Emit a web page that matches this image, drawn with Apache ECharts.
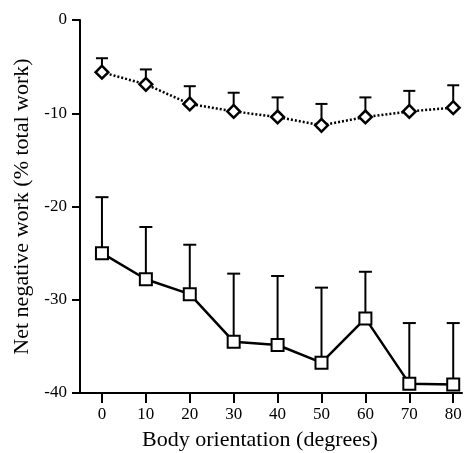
<!DOCTYPE html>
<html>
<head>
<meta charset="utf-8">
<script src="https://cdn.jsdelivr.net/npm/echarts@6/dist/echarts.min.js"></script>
<style>
  html, body { margin: 0; padding: 0; background: #fff; }
  #chart { width: 465px; height: 453px; }
</style>
</head>
<body>
<div id="chart"></div>
<script>
// body orientation (degrees)
var angles = [0, 10, 20, 30, 40, 50, 60, 70, 80];
// diamonds, dotted line
var upperMean = [-5.6, -6.9, -9.0, -9.8, -10.4, -11.3, -10.4, -9.8, -9.4];
var upperErrTop = [-4.1, -5.3, -7.1, -7.8, -8.3, -9.0, -8.3, -7.6, -7.0];
// squares, solid line
var lowerMean = [-25.0, -27.8, -29.4, -34.5, -34.85, -36.75, -32.0, -39.0, -39.1];
var lowerErrTop = [-19.0, -22.2, -24.1, -27.2, -27.45, -28.7, -27.0, -32.5, -32.5];
var yTicks = [0, -10, -20, -30, -40];

var font = "'Liberation Serif', 'DejaVu Serif', serif";

function pairs(ys) {
  return angles.map(function (a, i) { return [a, ys[i]]; });
}
function errData(means, tops) {
  return angles.map(function (a, i) { return [a, means[i], tops[i]]; });
}

function errorBar(capW) {
  return function (params, api) {
    var p = api.coord([api.value(0), api.value(1)]);
    var t = api.coord([api.value(0), api.value(2)]);
    var st = { stroke: '#000', lineWidth: 2 };
    return {
      type: 'group',
      children: [
        { type: 'line', shape: { x1: p[0], y1: p[1], x2: t[0], y2: t[1] }, style: st },
        { type: 'line', shape: { x1: t[0] - capW / 2, y1: t[1], x2: t[0] + capW / 2, y2: t[1] }, style: st }
      ]
    };
  };
}

var chart = echarts.init(document.getElementById('chart'));
chart.setOption({
  animation: false,
  backgroundColor: '#fff',
  grid: { left: 80, right: 3, top: 20, bottom: 60, containLabel: false, outerBoundsMode: 'none' },
  xAxis: {
    type: 'value',
    min: -5,
    max: 82,
    name: 'Body orientation (degrees)',
    nameLocation: 'middle',
    nameGap: 36,
    nameTextStyle: { fontFamily: font, fontSize: 22, color: '#000', padding: [0, 22, 0, 0] },
    axisLine: { onZero: false, lineStyle: { color: '#000', width: 2 } },
    axisTick: { show: true, length: 10, lineStyle: { color: '#000', width: 2 }, customValues: angles },
    axisLabel: { fontFamily: font, fontSize: 17, color: '#000', margin: 13, customValues: angles },
    splitLine: { show: false }
  },
  yAxis: {
    type: 'value',
    min: -40,
    max: 0,
    interval: 10,
    name: 'Net negative work (% total work)',
    nameLocation: 'middle',
    nameGap: 47,
    nameTextStyle: { fontFamily: font, fontSize: 22, color: '#000' },
    axisLine: { show: true, onZero: false, lineStyle: { color: '#000', width: 2 } },
    axisTick: { show: true, length: 8, lineStyle: { color: '#000', width: 2 }, customValues: yTicks },
    axisLabel: { fontFamily: font, fontSize: 17, color: '#000', margin: 13, customValues: yTicks },
    splitLine: { show: false }
  },
  series: [
    {
      type: 'custom',
      renderItem: errorBar(12),
      data: errData(upperMean, upperErrTop),
      z: 1
    },
    {
      type: 'custom',
      renderItem: errorBar(13),
      data: errData(lowerMean, lowerErrTop),
      z: 1
    },
    {
      type: 'line',
      data: pairs(upperMean),
      symbol: 'rect',
      symbolSize: 9,
      symbolRotate: 45,
      showAllSymbol: true,
      lineStyle: { color: '#000', width: 2.5, type: [2, 2] },
      itemStyle: { color: '#fff', borderColor: '#000', borderWidth: 2.5 },
      z: 3
    },
    {
      type: 'line',
      data: pairs(lowerMean),
      symbol: 'rect',
      symbolSize: 12,
      showAllSymbol: true,
      lineStyle: { color: '#000', width: 2.5 },
      itemStyle: { color: '#fff', borderColor: '#000', borderWidth: 2 },
      z: 3
    }
  ]
});
</script>
</body>
</html>
